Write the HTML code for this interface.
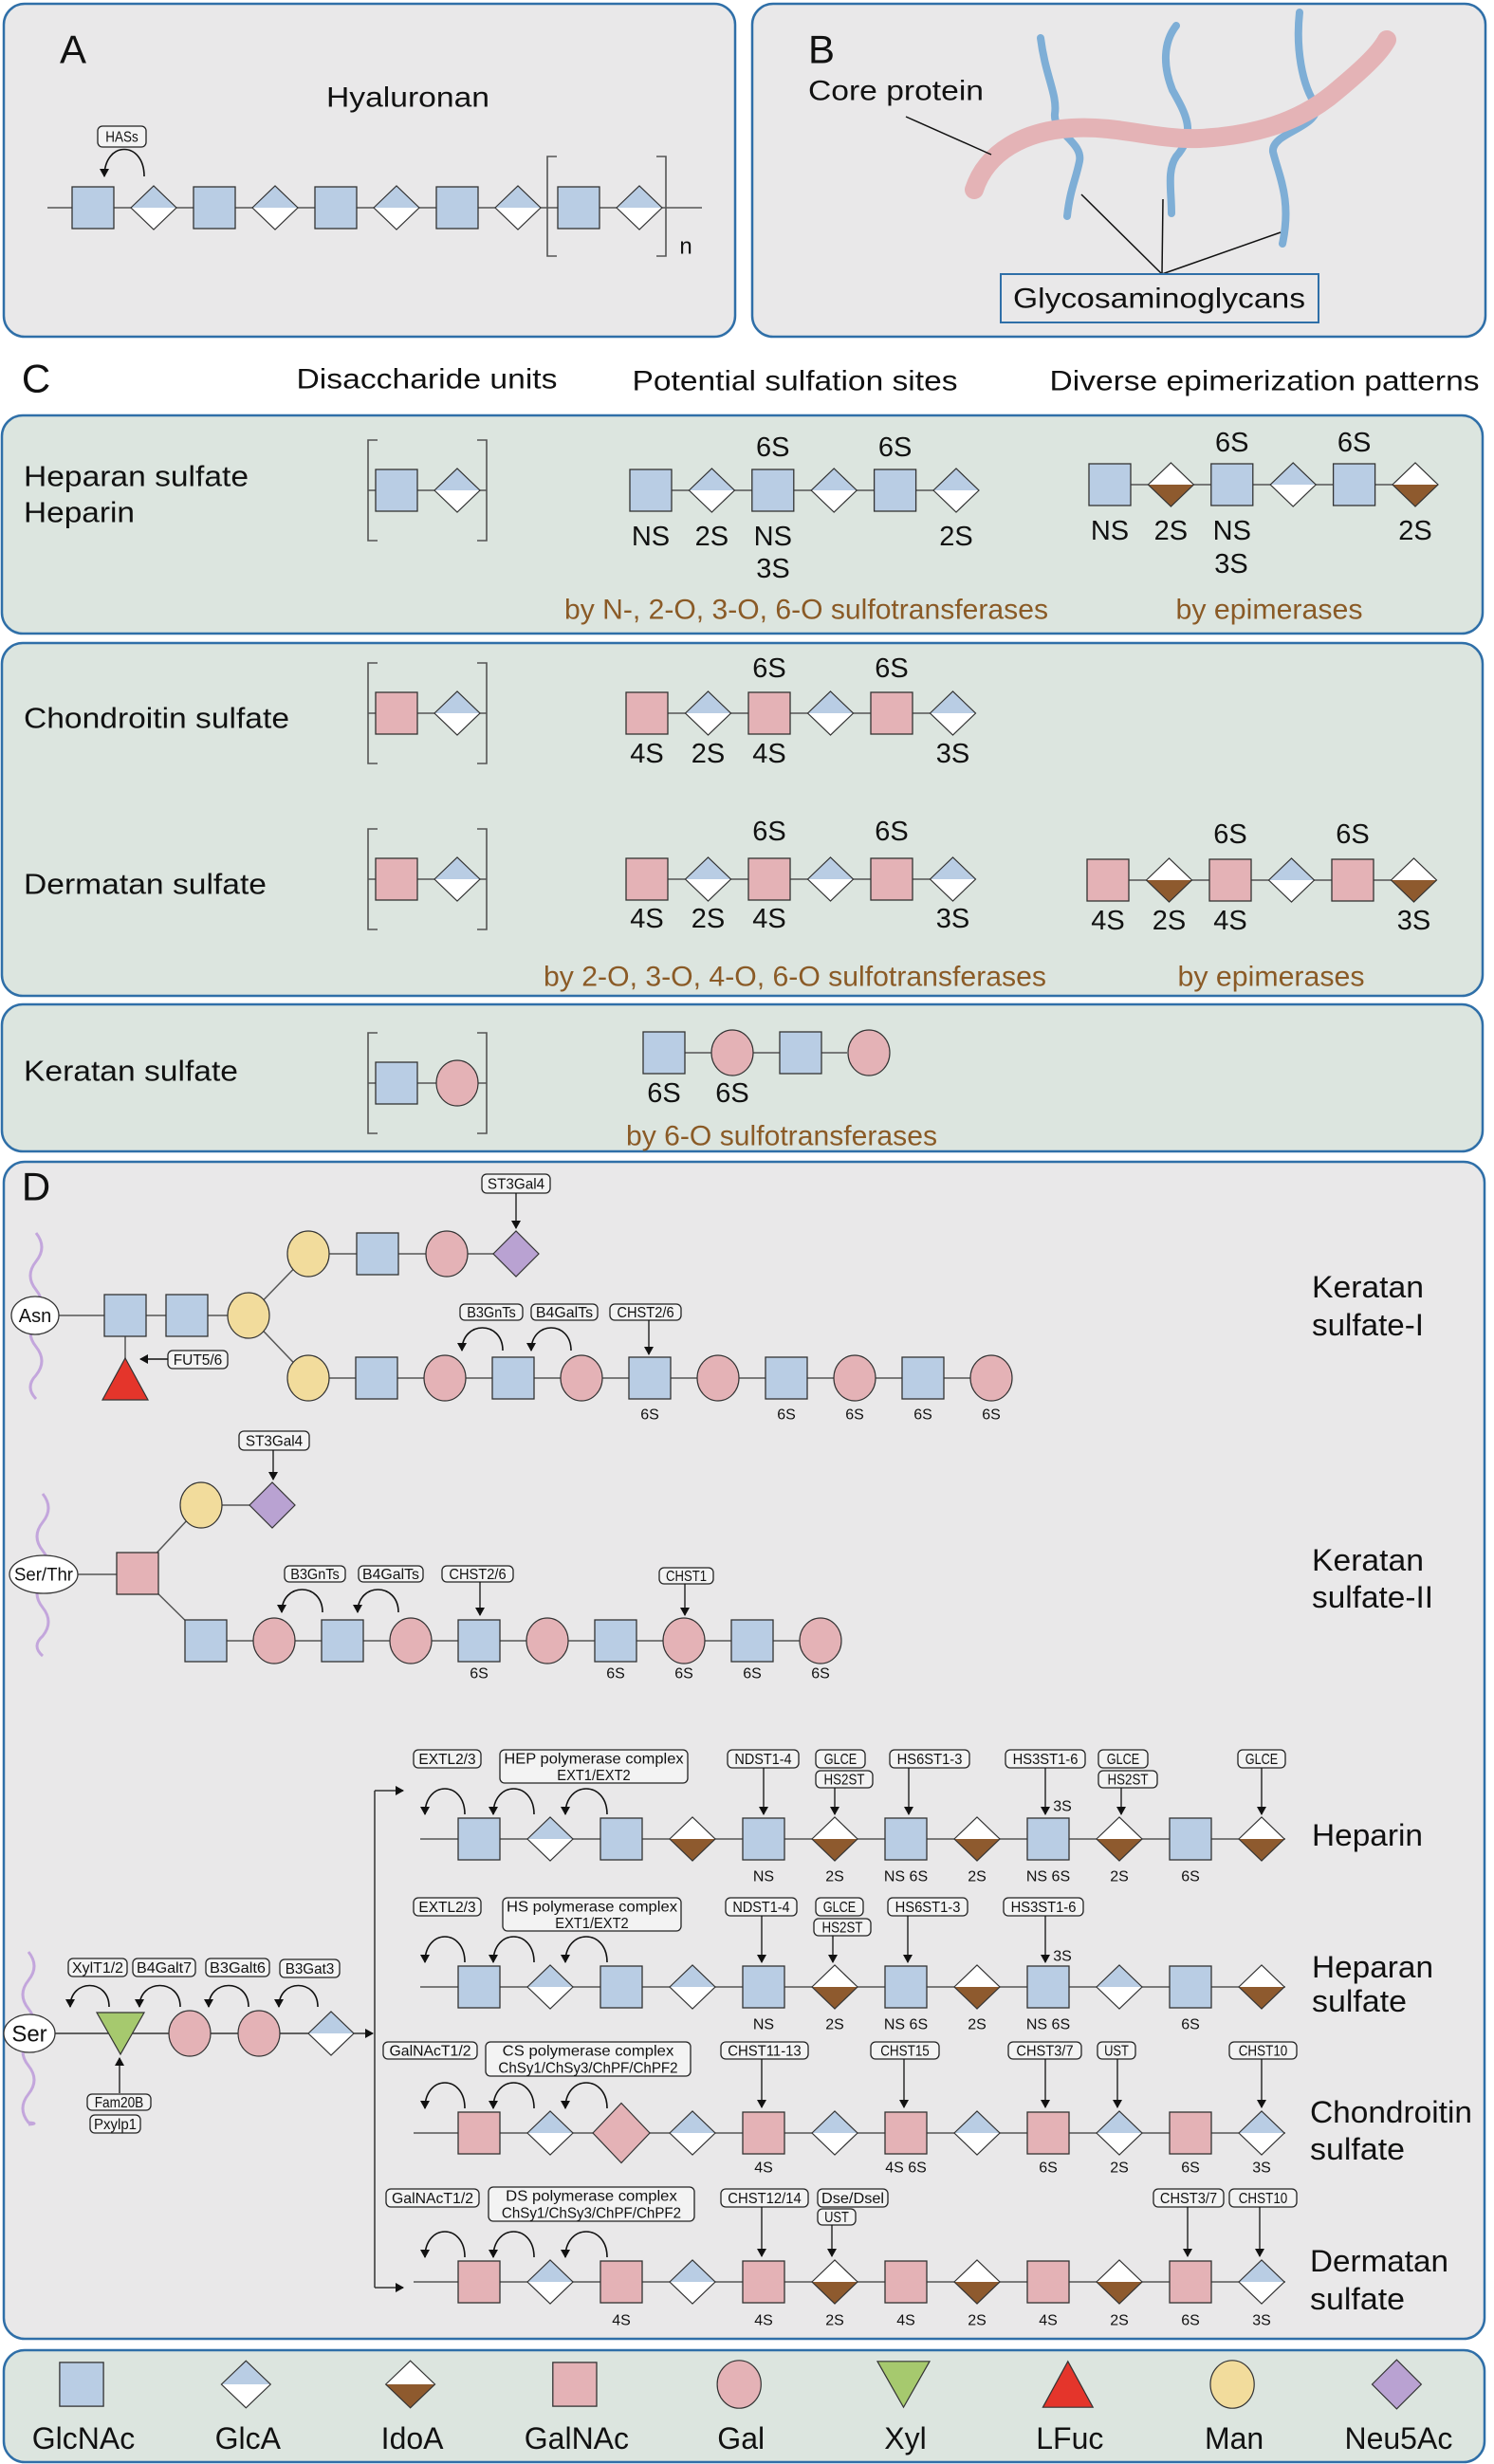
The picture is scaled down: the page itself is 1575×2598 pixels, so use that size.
<!DOCTYPE html>
<html><head><meta charset="utf-8">
<style>
html,body{margin:0;padding:0;background:#fff;}
svg{display:block;}
text{font-family:"Liberation Sans",Arial,sans-serif;}
</style></head>
<body>
<svg id="fig" xmlns="http://www.w3.org/2000/svg" width="1575" height="2598" viewBox="0 0 1575 2598">
<defs>
<marker id="ah" markerWidth="10" markerHeight="10" refX="8" refY="5" orient="auto" markerUnits="userSpaceOnUse"><path d="M0,0 L9,5 L0,10 Z" fill="#111"/></marker>
</defs>
<rect x="0" y="0" width="1575" height="2598" fill="#ffffff"/>
</svg>
<script>
const NS='http://www.w3.org/2000/svg';
const svg=document.getElementById('fig');
const COL={blue:'#b9cde4',pink:'#e4b2b6',brown:'#8e5a2e',man:'#f2dc9c',neu:'#b9a2d2',xyl:'#a6c96e',fuc:'#e4352b',green:'#dce5df',gray:'#e9e8e9',border:'#2f6fa8',sulf:'#8a5a26'};

/* ---- sequence data ---- */
const hyaSeq=['S','A','S','A','S','A','S','A','S','A'];
const hsSulfSeq=['S','A','S','A','S','A'];
const hsSulfTop=['','','6S','','6S',''];
const hsSulfBot=['NS','2S','NS','','','2S'];
const hsEpiSeq=['S','I','S','A','S','I'];
const csSulfSeq=['P','A','P','A','P','A'];
const csSulfTop=['','','6S','','6S',''];
const csSulfBot=['4S','2S','4S','','','3S'];
const dsEpiSeq=['P','I','P','A','P','I'];
const ksSulfSeq=['S','G','S','G'];
const ksSulfBot=['6S','6S','',''];
const ks1Upper=['M','S','G','N'];
const ks1Lower=['M','S','G','S','G','S','G','S','G','S','G'];
const ks1LowerLab=['','','','','','6S','','6S','6S','6S','6S'];
const ks2Lower=['S','G','S','G','S','G','S','G','S','G'];
const ks2LowerLab=['','','','','6S','','6S','6S','6S','6S'];
const linkerSeq=['X','G','G','A'];
const hepSeq=['S','A','S','I','S','I','S','I','S','I','S','I'];
const hepLab=['','','','','NS','2S','NS 6S','2S','NS 6S','2S','6S',''];
const hsSeq=['S','A','S','A','S','I','S','I','S','A','S','I'];
const hsLab=['','','','','NS','2S','NS 6S','2S','NS 6S','','6S',''];
const csSeq=['P','A','D','A','P','A','P','A','P','A','P','A'];
const csLab=['','','','','4S','','4S 6S','','6S','2S','6S','3S'];
const dsSeq=['P','A','P','A','P','I','P','I','P','I','P','A'];
const dsLab=['','','4S','','4S','2S','4S','2S','4S','2S','6S','3S'];
const legendCodes=['S','A','I','P','G','X','F','M','N'];
const legendNames=['GlcNAc','GlcA','IdoA','GalNAc','Gal','Xyl','LFuc','Man','Neu5Ac'];

function el(tag,attrs,name,parent){
  const e=document.createElementNS(NS,tag);
  for(const k in attrs) e.setAttribute(k,attrs[k]);
  
  
  (parent||svg).appendChild(e);
  return e;
}
function txt(x,y,s,size,name,o){
  o=o||{};
  const e=el('text',{x:x,y:y,'font-size':size,'text-anchor':o.anchor||'middle','dominant-baseline':'central',fill:o.fill||'#111'},name);
  if(o.len){e.setAttribute('textLength',o.len);e.setAttribute('lengthAdjust','spacingAndGlyphs');}
  e.textContent=s;return e;
}
function line(x1,y1,x2,y2,name,w,col,arrow){
  const e=el('line',{x1:x1,y1:y1,x2:x2,y2:y2,stroke:col||'#444','stroke-width':w||1.5},name);
  if(arrow) e.setAttribute('marker-end','url(#ah)');
  return e;
}
function panel(x,y,w,h,fill,name){el('rect',{x:x,y:y,width:w,height:h,rx:22,fill:fill,stroke:COL.border,'stroke-width':2.5},name);}
function sq(cx,cy,fill,name,s){s=s||44;el('rect',{x:cx-s/2,y:cy-s/2,width:s,height:s,fill:fill,stroke:'#333','stroke-width':1.3},name);}
function circ(cx,cy,fill,name,rx,ry){el('ellipse',{cx:cx,cy:cy,rx:rx||22,ry:ry||24,fill:fill,stroke:'#333','stroke-width':1.2},name);}
function dia(cx,cy,top,bot,name,w,h){
  w=w||48;h=h||46;
  const g=el('g',{},name);
  el('polygon',{points:`${cx-w/2},${cy} ${cx},${cy-h/2} ${cx+w/2},${cy}`,fill:top},name+'-top',g);
  el('polygon',{points:`${cx-w/2},${cy} ${cx},${cy+h/2} ${cx+w/2},${cy}`,fill:bot},name+'-bottom',g);
  el('polygon',{points:`${cx-w/2},${cy} ${cx},${cy-h/2} ${cx+w/2},${cy} ${cx},${cy+h/2}`,fill:'none',stroke:'#333','stroke-width':1.2},name+'-outline',g);
}
function tri(cx,cy,w,h,fill,down,name){
  const p=down?`${cx-w/2},${cy-h/2} ${cx+w/2},${cy-h/2} ${cx},${cy+h/2}`:`${cx-w/2},${cy+h/2} ${cx+w/2},${cy+h/2} ${cx},${cy-h/2}`;
  el('polygon',{points:p,fill:fill,stroke:'#333','stroke-width':1.2},name);
}
function sym(code,cx,cy,k){
  k=k||1;
  if(code==='S') sq(cx,cy,COL.blue,'glcnac-square',44*k);
  else if(code==='P') sq(cx,cy,COL.pink,'galnac-square',44*k);
  else if(code==='A') dia(cx,cy,COL.blue,'#ffffff','glca-diamond',48*k,46*k);
  else if(code==='I') dia(cx,cy,'#ffffff',COL.brown,'idoa-diamond',48*k,46*k);
  else if(code==='G') circ(cx,cy,COL.pink,'gal-circle',22*k,24*k);
  else if(code==='M') circ(cx,cy,COL.man,'man-circle',22*k,24*k);
  else if(code==='N') dia(cx,cy,COL.neu,COL.neu,'neu5ac-diamond',48*k,48*k);
  else if(code==='X') tri(cx,cy,50*k,44*k,COL.xyl,true,'xyl-triangle');
  else if(code==='F') tri(cx,cy,48*k,44*k,COL.fuc,false,'fuc-triangle');
  else if(code==='D') dia(cx,cy,COL.pink,COL.pink,'galnac-big-diamond',60,63);
}
function chain(seq,x0,step,cy,lineX1,lineX2,name){
  line(lineX1,cy,lineX2,cy,name+'-backbone',1.5,'#555');
  seq.forEach((c,i)=>sym(c,x0+i*step,cy));
}
function labels(arr,x0,step,y,size,name){arr.forEach((s,i)=>{if(s) txt(x0+i*step,y,s,size,name);});}
function ebox(x1,x2,y1,y2,lines,name){
  el('rect',{x:x1,y:y1,width:x2-x1,height:y2-y1,rx:5,fill:'#f3f3f3',stroke:'#222','stroke-width':1.3},name);
  const n=lines.length,h=(y2-y1)/n;
  lines.forEach((s,i)=>txt((x1+x2)/2,y1+h*(i+0.5)+1,s,16,name+'-text',{len:Math.min(x2-x1-8,s.length*8.6)}));
}
function arc(x1,x2,y,peak,name){
  const e=el('path',{d:`M${x1},${y} C${x1},${peak} ${x2},${peak} ${x2},${y}`,fill:'none',stroke:'#111','stroke-width':1.6},name);
  e.setAttribute('marker-end','url(#ah)');
}
function wavy(x,y1,y2,name){
  let d=`M${x},${y1}`;let y=y1,s=1;
  while(y<y2){const ny=Math.min(y+30,y2);d+=` Q${x+12*s},${(y+ny)/2} ${x},${ny}`;y=ny;s=-s;}
  el('path',{d:d,fill:'none',stroke:'#c3a6dc','stroke-width':3},name);
}

/* ---------- Panel A ---------- */
panel(4,4,771,351,COL.gray,'panel-a');
txt(77,52,'A',42,'panel-a-label');
txt(430,103,'Hyaluronan',30,'hyaluronan-title',{len:172});
chain(hyaSeq,98,64,219,50,740,'hyaluronan-chain');
ebox(103,154,133,155,['HASs'],'hass-enzyme-box');
arc(152,110,186,148,'hass-arrow');
el('path',{d:'M587,165 H577 V270 H587 M692,165 H702 V270 H692',fill:'none',stroke:'#555','stroke-width':1.6},'repeat-bracket');
txt(723,260,'n',24,'repeat-n');

/* ---------- Panel B ---------- */
panel(793,4,773,351,COL.gray,'panel-b');
txt(866,52,'B',42,'panel-b-label');
el('path',{d:'M1097,40 C1102,80 1115,100 1112,120 C1110,140 1142,150 1138,170 C1134,190 1128,200 1125,228',fill:'none',stroke:'#7eaed6','stroke-width':8,'stroke-linecap':'round'},'gag-chain-1');
el('path',{d:'M1240,27 C1226,45 1226,70 1236,95 C1250,120 1262,140 1240,165 C1230,180 1235,200 1235,225',fill:'none',stroke:'#7eaed6','stroke-width':8,'stroke-linecap':'round'},'gag-chain-2');
el('path',{d:'M1370,13 C1366,50 1372,90 1388,112 C1390,135 1340,140 1342,160 C1348,185 1362,210 1352,257',fill:'none',stroke:'#7eaed6','stroke-width':8,'stroke-linecap':'round'},'gag-chain-3');
el('path',{d:'M1027,200 C1040,160 1080,138 1130,135 C1180,132 1220,148 1265,146 C1320,143 1370,130 1410,95 C1440,70 1455,55 1462,42',fill:'none',stroke:'#e4b3b6','stroke-width':20,'stroke-linecap':'round'},'core-protein');
txt(852,96,'Core protein',30,'core-protein-label',{anchor:'start',len:185});
line(955,123,1045,163,'core-protein-pointer',1.5,'#111');
line(1225,289,1140,205,'gag-pointer-1',1.5,'#111');
line(1225,289,1226,210,'gag-pointer-2',1.5,'#111');
line(1225,289,1350,245,'gag-pointer-3',1.5,'#111');
el('rect',{x:1055,y:289,width:335,height:51,fill:'none',stroke:COL.border,'stroke-width':2},'glycosaminoglycans-box');
txt(1222,315,'Glycosaminoglycans',30,'glycosaminoglycans-label',{len:308});

/* ---------- Panel C ---------- */
txt(38,399,'C',42,'panel-c-label');
txt(450,400,'Disaccharide units',30,'column-header-disaccharide',{len:275});
txt(838,402,'Potential sulfation sites',30,'column-header-sulfation',{len:343});
txt(1333,402,'Diverse epimerization patterns',30,'column-header-epimerization',{len:453});
panel(2,438,1561,230,COL.green,'heparan-box');
panel(2,678,1561,372,COL.green,'chondroitin-dermatan-box');
panel(2,1059,1561,155,COL.green,'keratan-box');
function bracket(cy,name){el('path',{d:`M398,${cy-53} H388 V${cy+53} H398 M503,${cy-53} H513 V${cy+53} H503`,fill:'none',stroke:'#555','stroke-width':1.6},name);}
function disac(a,b,cy,name){bracket(cy,name+'-bracket');line(388,cy,513,cy,name+'-line',1.5,'#555');sym(a,418,cy);sym(b,482,cy);}
txt(25,502,'Heparan sulfate',31,'heparan-sulfate-label',{anchor:'start',len:237});
txt(25,540,'Heparin',31,'heparin-label',{anchor:'start',len:117});
disac('S','A',517,'hs-disaccharide');
chain(hsSulfSeq,686,64.4,517,664,1030,'hs-sulfation-chain');
labels(hsSulfTop,686,64.4,472,29,'sulfation-label');
labels(hsSulfBot,686,64.4,566,29,'sulfation-label');
txt(815,600,'3S',29,'sulfation-label');
chain(hsEpiSeq,1170,64.4,511,1148,1515,'hs-epimerization-chain');
labels(hsSulfTop,1170,64.4,467,29,'sulfation-label');
labels(hsSulfBot,1170,64.4,560,29,'sulfation-label');
txt(1298,595,'3S',29,'sulfation-label');
txt(850,643,'by N-, 2-O, 3-O, 6-O sulfotransferases',30,'hs-sulfotransferase-note',{fill:COL.sulf,len:510});
txt(1338,643,'by epimerases',30,'hs-epimerase-note',{fill:COL.sulf,len:197});

txt(25,757,'Chondroitin sulfate',31,'chondroitin-sulfate-label',{anchor:'start',len:280});
disac('P','A',752,'cs-disaccharide');
chain(csSulfSeq,682,64.5,752,660,1028,'cs-sulfation-chain');
labels(csSulfTop,682,64.5,705,29,'sulfation-label');
labels(csSulfBot,682,64.5,795,29,'sulfation-label');

txt(25,932,'Dermatan sulfate',31,'dermatan-sulfate-label',{anchor:'start',len:256});
disac('P','A',927,'ds-disaccharide');
chain(csSulfSeq,682,64.5,927,660,1028,'ds-sulfation-chain');
labels(csSulfTop,682,64.5,877,29,'sulfation-label');
labels(csSulfBot,682,64.5,969,29,'sulfation-label');
chain(dsEpiSeq,1168,64.5,928,1146,1512,'ds-epimerization-chain');
labels(csSulfTop,1168,64.5,880,29,'sulfation-label');
labels(csSulfBot,1168,64.5,971,29,'sulfation-label');
txt(838,1030,'by 2-O, 3-O, 4-O, 6-O sulfotransferases',30,'cs-sulfotransferase-note',{fill:COL.sulf,len:530});
txt(1340,1030,'by epimerases',30,'ds-epimerase-note',{fill:COL.sulf,len:197});

txt(25,1129,'Keratan sulfate',31,'keratan-sulfate-label',{anchor:'start',len:226});
disac('S','G',1142,'ks-disaccharide');
chain(ksSulfSeq,700,72,1110,722,893,'ks-sulfation-chain');
labels(ksSulfBot,700,72,1153,29,'sulfation-label');
txt(824,1198,'by 6-O sulfotransferases',30,'ks-sulfotransferase-note',{fill:COL.sulf,len:328});

/* ---------- Panel D ---------- */
panel(4,1225,1561,1241,COL.gray,'panel-d');
txt(38,1251,'D',42,'panel-d-label');

/* KS-I */
wavy(38,1300,1475,'ks1-protein-backbone');
line(62,1387,262,1387,'ks1-core-line',1.5,'#555');
line(262,1387,325,1322,'ks1-branch-upper',1.5,'#555');
line(262,1387,325,1453,'ks1-branch-lower',1.5,'#555');
line(325,1322,544,1322,'ks1-upper-line',1.5,'#555');
line(325,1453,1045,1453,'ks1-lower-line',1.5,'#555');
line(132,1409,132,1435,'ks1-fuc-link',1.5,'#555');
el('ellipse',{cx:37,cy:1387,rx:25,ry:20,fill:'#fff',stroke:'#333','stroke-width':1.3},'asn-ellipse');
txt(37,1388,'Asn',20,'asn-label');
sym('S',132,1387);sym('S',197,1387);sym('M',262,1387);
ks1Upper.forEach((c,i)=>sym(c,325+i*73,1322));
ks1Lower.forEach((c,i)=>sym(c,325+i*72,1453));
labels(ks1LowerLab,325,72,1492,16,'ks1-sulfation-label');
sym('F',132,1454);
ebox(177,240,1424,1443,['FUT5/6'],'fut56-enzyme-box');
line(177,1433,148,1433,'fut56-arrow',1.5,'#111',true);
ebox(508,580,1238,1258,['ST3Gal4'],'st3gal4-ks1-box');
line(544,1258,544,1295,'st3gal4-ks1-arrow',1.3,'#111',true);
ebox(485,551,1375,1392,['B3GnTs'],'b3gnts-ks1-box');
ebox(560,630,1375,1392,['B4GalTs'],'b4galts-ks1-box');
ebox(643,718,1375,1392,['CHST2/6'],'chst26-ks1-box');
line(684,1392,684,1428,'chst26-ks1-arrow',1.3,'#111',true);
arc(530,487,1424,1392,'b3gnts-ks1-arrow');
arc(602,560,1424,1392,'b4galts-ks1-arrow');
txt(1383,1357,'Keratan',32,'ks1-title-line1',{anchor:'start',len:118});
txt(1383,1397,'sulfate-I',32,'ks1-title-line2',{anchor:'start',len:118});

/* KS-II */
wavy(45,1575,1746,'ks2-protein-backbone');
line(82,1660,145,1660,'ks2-core-line',1.5,'#555');
line(145,1659,212,1587,'ks2-branch-upper',1.5,'#555');
line(145,1659,217,1730,'ks2-branch-lower',1.5,'#555');
line(212,1587,287,1587,'ks2-upper-line',1.5,'#555');
line(217,1730,866,1730,'ks2-lower-line',1.5,'#555');
el('ellipse',{cx:46,cy:1660,rx:36,ry:20,fill:'#fff',stroke:'#333','stroke-width':1.3},'ser-thr-ellipse');
txt(46,1661,'Ser/Thr',19,'ser-thr-label',{len:62});
sym('P',145,1659);sym('M',212,1587);sym('N',287,1587);
ks2Lower.forEach((c,i)=>sym(c,217+i*72,1730));
labels(ks2LowerLab,217,72,1765,16,'ks2-sulfation-label');
ebox(252,326,1509,1529,['ST3Gal4'],'st3gal4-ks2-box');
line(288,1529,288,1560,'st3gal4-ks2-arrow',1.3,'#111',true);
ebox(300,364,1651,1668,['B3GnTs'],'b3gnts-ks2-box');
ebox(378,446,1651,1668,['B4GalTs'],'b4galts-ks2-box');
ebox(466,541,1651,1668,['CHST2/6'],'chst26-ks2-box');
line(506,1668,506,1703,'chst26-ks2-arrow',1.3,'#111',true);
ebox(695,752,1653,1670,['CHST1'],'chst1-box');
line(722,1670,722,1703,'chst1-arrow',1.3,'#111',true);
arc(340,297,1700,1668,'b3gnts-ks2-arrow');
arc(420,377,1700,1668,'b4galts-ks2-arrow');
txt(1383,1645,'Keratan',32,'ks2-title-line1',{anchor:'start',len:118});
txt(1383,1684,'sulfate-II',32,'ks2-title-line2',{anchor:'start',len:128});

/* Linker */
wavy(30,2058,2240,'linker-protein-backbone');
line(58,2144,393,2144,'linker-line',1.5,'#333',true);
el('ellipse',{cx:31,cy:2144,rx:27,ry:20,fill:'#fff',stroke:'#333','stroke-width':1.3},'ser-ellipse');
txt(31,2145,'Ser',24,'ser-label');
sym('X',127,2144);sym('G',200,2144);sym('G',273,2144);sym('A',349,2144);
ebox(72,134,2065,2084,['XylT1/2'],'xylt-box');
ebox(140,206,2065,2084,['B4Galt7'],'b4galt7-box');
ebox(217,284,2065,2084,['B3Galt6'],'b3galt6-box');
ebox(295,358,2066,2085,['B3Gat3'],'b3gat3-box');
arc(115,74,2116,2086,'xylt-arrow');
arc(190,147,2116,2086,'b4galt7-arrow');
arc(262,220,2116,2086,'b3galt6-arrow');
arc(335,294,2116,2086,'b3gat3-arrow');
ebox(92,159,2208,2225,['Fam20B'],'fam20b-box');
ebox(95,148,2230,2249,['Pxylp1'],'pxylp1-box');
line(126,2207,126,2170,'fam20b-arrow',1.3,'#111',true);
line(395,1888,395,2412,'branch-vertical',1.5,'#333');
line(395,1888,425,1888,'branch-to-heparin',1.5,'#333',true);
line(395,2412,425,2412,'branch-to-dermatan',1.5,'#333',true);

/* GAG rows */
function gagRow(seq,lab,cy,labY,lineX,name){
  chain(seq,505,75,cy,lineX,1355,name);
  labels(lab,505,75,labY,16,name+'-sulfation-label');
  arc(490,448,cy-26,cy-62,name+'-arrow-1');
  arc(563,520,cy-26,cy-62,name+'-arrow-2');
  arc(640,596,cy-26,cy-62,name+'-arrow-3');
}
gagRow(hepSeq,hepLab,1939,1979,443,'heparin-row');
txt(1120,1905,'3S',16,'heparin-3s-label');
ebox(436,507,1845,1864,['EXTL2/3'],'extl-heparin-box');
ebox(527,725,1845,1880,['HEP polymerase complex','EXT1/EXT2'],'hep-polymerase-box');
ebox(767,842,1845,1864,['NDST1-4'],'ndst-heparin-box');line(805,1864,805,1913,'ndst-heparin-arrow',1.3,'#111',true);
ebox(860,912,1845,1864,['GLCE'],'glce-heparin-box');ebox(860,920,1867,1885,['HS2ST'],'hs2st-heparin-box');line(880,1885,880,1913,'hs2st-heparin-arrow',1.3,'#111',true);
ebox(938,1022,1845,1864,['HS6ST1-3'],'hs6st-heparin-box');line(958,1864,958,1913,'hs6st-heparin-arrow',1.3,'#111',true);
ebox(1060,1144,1845,1864,['HS3ST1-6'],'hs3st-heparin-box');line(1102,1864,1102,1913,'hs3st-heparin-arrow',1.3,'#111',true);
ebox(1158,1210,1845,1864,['GLCE'],'glce2-heparin-box');ebox(1158,1220,1867,1885,['HS2ST'],'hs2st2-heparin-box');line(1182,1885,1182,1913,'hs2st2-heparin-arrow',1.3,'#111',true);
ebox(1305,1355,1845,1864,['GLCE'],'glce3-heparin-box');line(1330,1864,1330,1913,'glce3-heparin-arrow',1.3,'#111',true);
txt(1383,1935,'Heparin',32,'heparin-row-title',{anchor:'start',len:117});

gagRow(hsSeq,hsLab,2095,2135,443,'hs-row');
txt(1120,2063,'3S',16,'hs-3s-label');
ebox(436,507,2001,2020,['EXTL2/3'],'extl-hs-box');
ebox(530,718,2001,2036,['HS polymerase complex','EXT1/EXT2'],'hs-polymerase-box');
ebox(765,840,2001,2020,['NDST1-4'],'ndst-hs-box');line(803,2020,803,2069,'ndst-hs-arrow',1.3,'#111',true);
ebox(860,910,2001,2020,['GLCE'],'glce-hs-box');ebox(858,918,2023,2041,['HS2ST'],'hs2st-hs-box');line(878,2041,878,2069,'hs2st-hs-arrow',1.3,'#111',true);
ebox(936,1020,2001,2020,['HS6ST1-3'],'hs6st-hs-box');line(957,2020,957,2069,'hs6st-hs-arrow',1.3,'#111',true);
ebox(1058,1142,2001,2020,['HS3ST1-6'],'hs3st-hs-box');line(1102,2020,1102,2069,'hs3st-hs-arrow',1.3,'#111',true);
txt(1383,2074,'Heparan',32,'hs-row-title-1',{anchor:'start',len:128});
txt(1383,2110,'sulfate',32,'hs-row-title-2',{anchor:'start',len:100});

gagRow(csSeq,csLab,2249,2286,436,'cs-row');
ebox(404,503,2153,2171,['GalNAcT1/2'],'galnact-cs-box');
ebox(512,728,2153,2189,['CS polymerase complex','ChSy1/ChSy3/ChPF/ChPF2'],'cs-polymerase-box');
ebox(760,852,2153,2171,['CHST11-13'],'chst11-box');line(803,2171,803,2222,'chst11-arrow',1.3,'#111',true);
ebox(918,990,2153,2171,['CHST15'],'chst15-box');line(953,2171,953,2222,'chst15-arrow',1.3,'#111',true);
ebox(1063,1140,2153,2171,['CHST3/7'],'chst37-cs-box');line(1102,2171,1102,2222,'chst37-cs-arrow',1.3,'#111',true);
ebox(1157,1197,2153,2171,['UST'],'ust-cs-box');line(1178,2171,1178,2222,'ust-cs-arrow',1.3,'#111',true);
ebox(1296,1367,2153,2171,['CHST10'],'chst10-cs-box');line(1330,2171,1330,2222,'chst10-cs-arrow',1.3,'#111',true);
txt(1381,2227,'Chondroitin',32,'cs-row-title-1',{anchor:'start',len:171});
txt(1381,2266,'sulfate',32,'cs-row-title-2',{anchor:'start',len:100});

gagRow(dsSeq,dsLab,2406,2447,436,'ds-row');
ebox(407,505,2308,2327,['GalNAcT1/2'],'galnact-ds-box');
ebox(515,732,2306,2342,['DS polymerase complex','ChSy1/ChSy3/ChPF/ChPF2'],'ds-polymerase-box');
ebox(760,852,2308,2327,['CHST12/14'],'chst12-box');line(803,2327,803,2379,'chst12-arrow',1.3,'#111',true);
ebox(862,936,2308,2327,['Dse/Dsel'],'dse-box');ebox(862,902,2329,2346,['UST'],'ust-ds-box');line(877,2346,877,2379,'ust-ds-arrow',1.3,'#111',true);
ebox(1216,1290,2308,2327,['CHST3/7'],'chst37-ds-box');line(1252,2327,1252,2379,'chst37-ds-arrow',1.3,'#111',true);
ebox(1296,1367,2308,2327,['CHST10'],'chst10-ds-box');line(1328,2327,1328,2379,'chst10-ds-arrow',1.3,'#111',true);
txt(1381,2384,'Dermatan',32,'ds-row-title-1',{anchor:'start',len:146});
txt(1381,2424,'sulfate',32,'ds-row-title-2',{anchor:'start',len:100});

/* ---------- Legend ---------- */
panel(4,2478,1561,118,COL.green,'legend-box');
legendCodes.forEach((c,i)=>{
  const cx=86+i*173.3;
  if(c==='S'||c==='P') sym(c,cx,2514,1.05);
  else if(c==='G'||c==='M') sym(c,cx,2514,1.05);
  else if(c==='X'||c==='F') sym(c,cx,2514,1.1);
  else sym(c,cx,2514,1.08);
  txt(cx+2,2571,legendNames[i],32,'legend-label-'+legendNames[i].toLowerCase());
});
</script>
</body></html>
